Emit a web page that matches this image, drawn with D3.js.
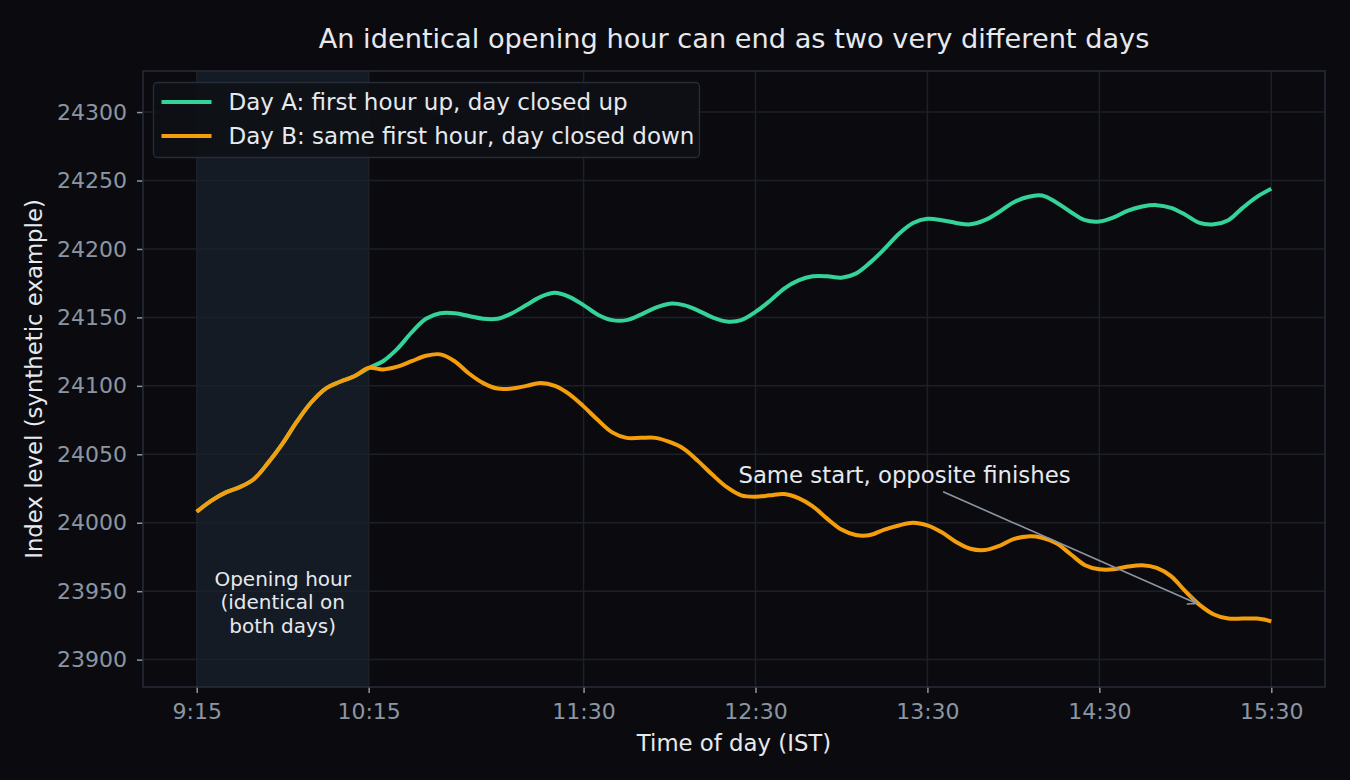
<!DOCTYPE html>
<html>
<head>
<meta charset="utf-8">
<script src="https://cdn.jsdelivr.net/npm/d3@7/dist/d3.min.js"></script>
<style>
  html, body { margin: 0; padding: 0; background: #0b0b0f; }
  svg { display: block; font-family: "DejaVu Sans", sans-serif; }
</style>
</head>
<body>
<div id="chart"></div>
<script>
'use strict'

// minutes after the 9:15 open
var openMinutes = [0, 5, 10, 15, 20, 25, 30, 35, 40, 45, 50, 55, 60]
var restMinutes = [65, 70, 75, 80, 85, 90, 95, 100, 105, 110, 115, 120, 125, 130, 135, 140,
  145, 150, 155, 160, 165, 170, 175, 180, 185, 190, 195, 200, 205, 210, 215, 220, 225, 230,
  235, 240, 245, 250, 255, 260, 265, 270, 275, 280, 285, 290, 295, 300, 305, 310, 315, 320,
  325, 330, 335, 340, 345, 350, 355, 360, 365, 370, 375]

// identical opening hour on both days
var openingHour = [24008, 24016, 24022, 24026, 24032, 24044, 24058, 24074, 24088, 24098,
  24103, 24107, 24113]

var dayARest = [24118, 24127, 24139, 24149, 24153, 24153, 24151, 24149, 24149, 24153,
  24159, 24165, 24168, 24165, 24159, 24152, 24148, 24148, 24152, 24157, 24160, 24159,
  24155, 24150, 24147, 24148, 24154, 24162, 24171, 24177, 24180, 24180, 24179, 24182,
  24190, 24200, 24211, 24219, 24222, 24221, 24219, 24218, 24221, 24227, 24234, 24238,
  24239, 24234, 24227, 24221, 24220, 24223, 24228, 24231, 24232, 24230, 24225, 24219,
  24218, 24221, 24230, 24238, 24244]

var dayBRest = [24112, 24114, 24118, 24122, 24123, 24118, 24109, 24102, 24098, 24098,
  24100, 24102, 24100, 24094, 24085, 24075, 24066, 24062, 24062, 24062, 24059, 24054,
  24045, 24035, 24026, 24020, 24019, 24020, 24021, 24018, 24012, 24003, 23995, 23991,
  23991, 23995, 23998, 24000, 23998, 23993, 23986, 23981, 23980, 23983, 23988, 23990,
  23989, 23985, 23977, 23969, 23966, 23966, 23968, 23969, 23967, 23961, 23950, 23940,
  23933, 23930, 23930, 23930, 23928]

var tickMinutes = [0, 60, 135, 195, 255, 315, 375]
var tickLabels = ['9:15', '10:15', '11:30', '12:30', '13:30', '14:30', '15:30']
var yTicks = [23900, 23950, 24000, 24050, 24100, 24150, 24200, 24250, 24300]

var seriesNames = ['Day A: first hour up, day closed up', 'Day B: same first hour, day closed down']
var seriesColors = ['#34d399', '#f59e0b']

var note = { text: 'Same start, opposite finishes', textAt: [247, 24035], pointAt: [349, 23941] }

var W = 1350
var H = 780
var margin = { top: 71, right: 25, bottom: 93, left: 143 }
var iw = W - margin.left - margin.right
var ih = H - margin.top - margin.bottom

var TEXT = '#e6e9ee'
var MUTED = '#8c96a3'
var GRID = '#1b2029'
var FRAME = '#262d38'

var x = d3.scaleLinear().domain([-18.75, 393.75]).range([0, iw])
var y = d3.scaleLinear().domain([23880, 24330]).range([ih, 0])

function toPoints (mins, vals) {
  return mins.map(function (m, i) { return { t: m, v: vals[i] } })
}

var dayA = toPoints(openMinutes.concat(restMinutes), openingHour.concat(dayARest))
var dayB = toPoints(openMinutes.concat(restMinutes), openingHour.concat(dayBRest))

var svg = d3.select('#chart').append('svg')
  .attr('width', W)
  .attr('height', H)

svg.append('rect').attr('width', W).attr('height', H).attr('fill', '#0b0b0f')

svg.append('text')
  .attr('x', margin.left + iw / 2)
  .attr('y', 48)
  .attr('text-anchor', 'middle')
  .attr('fill', TEXT)
  .style('font-size', '27.2px')
  .text('An identical opening hour can end as two very different days')

var g = svg.append('g').attr('transform', 'translate(' + margin.left + ',' + margin.top + ')')

// opening hour band
g.append('rect')
  .attr('x', x(0))
  .attr('y', 0)
  .attr('width', x(60) - x(0))
  .attr('height', ih)
  .attr('fill', '#151b24')

// grid
g.selectAll('line.hgrid')
  .data(yTicks)
  .enter().append('line')
  .attr('class', 'hgrid')
  .attr('x1', 0).attr('x2', iw)
  .attr('y1', function (d) { return y(d) })
  .attr('y2', function (d) { return y(d) })
  .attr('stroke', GRID)
  .attr('stroke-width', 1.5)

g.selectAll('line.vgrid')
  .data(tickMinutes)
  .enter().append('line')
  .attr('class', 'vgrid')
  .attr('y1', 0).attr('y2', ih)
  .attr('x1', function (d) { return x(d) })
  .attr('x2', function (d) { return x(d) })
  .attr('stroke', GRID)
  .attr('stroke-width', 1.5)

// axes
var xAxis = d3.axisBottom(x)
  .tickValues(tickMinutes)
  .tickFormat(function (d, i) { return tickLabels[i] })
  .tickSize(6)
  .tickPadding(10)
var yAxis = d3.axisLeft(y)
  .tickValues(yTicks)
  .tickFormat(d3.format('d'))
  .tickSize(6)
  .tickPadding(10)

var gx = g.append('g').attr('transform', 'translate(0,' + ih + ')').call(xAxis)
var gy = g.append('g').call(yAxis)
;[gx, gy].forEach(function (ax) {
  ax.select('.domain').remove()
  ax.selectAll('.tick line').attr('stroke', MUTED).attr('stroke-width', 1.5)
  ax.selectAll('.tick text')
    .attr('fill', MUTED)
    .style('font-size', '22px')
    .style('font-family', '"DejaVu Sans", sans-serif')
})

g.append('text')
  .attr('x', x(30))
  .attr('y', 515)
  .attr('text-anchor', 'middle')
  .attr('fill', TEXT)
  .style('font-size', '20px')
  .selectAll('tspan')
  .data(['Opening hour', '(identical on', 'both days)'])
  .enter().append('tspan')
  .attr('x', x(30))
  .attr('dy', function (d, i) { return i === 0 ? 0 : 23.3 })
  .text(function (d) { return d })

var line = d3.line()
  .x(function (d) { return x(d.t) })
  .y(function (d) { return y(d.v) })
  .curve(d3.curveCatmullRom.alpha(0.5))

g.selectAll('path.series')
  .data([dayA, dayB])
  .enter().append('path')
  .attr('class', 'series')
  .attr('d', line)
  .attr('fill', 'none')
  .attr('stroke', function (d, i) { return seriesColors[i] })
  .attr('stroke-width', 4)
  .attr('stroke-linejoin', 'round')

// annotation
var tx = x(note.textAt[0])
var ty = y(note.textAt[1])
var px = x(note.pointAt[0])
var py = y(note.pointAt[1])
var dx = px - tx
var dy = py - ty
var len = Math.sqrt(dx * dx + dy * dy)
var ux = dx / len
var uy = dy / len
var sx = tx + ux * (17 / uy)
var sy = ty + 17
var arrowColor = '#8c96a3'

g.append('text')
  .attr('x', tx)
  .attr('y', ty + 8)
  .attr('text-anchor', 'middle')
  .attr('fill', TEXT)
  .style('font-size', '22.8px')
  .text(note.text)

g.append('line')
  .attr('x1', sx).attr('y1', sy)
  .attr('x2', px).attr('y2', py)
  .attr('stroke', arrowColor)
  .attr('stroke-width', 1.6)

;[26.5, -26.5].forEach(function (deg) {
  var a = deg * Math.PI / 180
  var bx = -ux * Math.cos(a) + uy * Math.sin(a)
  var by = -ux * Math.sin(a) - uy * Math.cos(a)
  g.append('line')
    .attr('x1', px).attr('y1', py)
    .attr('x2', px + bx * 10).attr('y2', py + by * 10)
    .attr('stroke', arrowColor)
    .attr('stroke-width', 1.6)
})

// frame
g.append('rect')
  .attr('width', iw)
  .attr('height', ih)
  .attr('fill', 'none')
  .attr('stroke', FRAME)
  .attr('stroke-width', 1.5)

// legend
var lg = g.append('g').attr('transform', 'translate(10.5,11.5)')
lg.append('rect')
  .attr('width', 546)
  .attr('height', 75)
  .attr('rx', 4)
  .attr('fill', '#0e1016')
  .attr('fill-opacity', 0.92)
  .attr('stroke', FRAME)
  .attr('stroke-width', 1.3)

var items = lg.selectAll('g.item')
  .data(seriesNames)
  .enter().append('g')
  .attr('class', 'item')
  .attr('transform', function (d, i) { return 'translate(0,' + (19.5 + i * 34) + ')' })
items.append('line')
  .attr('x1', 8).attr('x2', 58)
  .attr('stroke', function (d, i) { return seriesColors[i] })
  .attr('stroke-width', 4)
items.append('text')
  .attr('x', 75)
  .attr('y', 8)
  .attr('fill', TEXT)
  .style('font-size', '23px')
  .text(function (d) { return d })

// axis titles
svg.append('text')
  .attr('x', margin.left + iw / 2)
  .attr('y', 751)
  .attr('text-anchor', 'middle')
  .attr('fill', TEXT)
  .style('font-size', '22.8px')
  .text('Time of day (IST)')

svg.append('text')
  .attr('transform', 'translate(42,' + (margin.top + ih / 2) + ') rotate(-90)')
  .attr('text-anchor', 'middle')
  .attr('fill', TEXT)
  .style('font-size', '22.8px')
  .text('Index level (synthetic example)')
</script>
</body>
</html>
